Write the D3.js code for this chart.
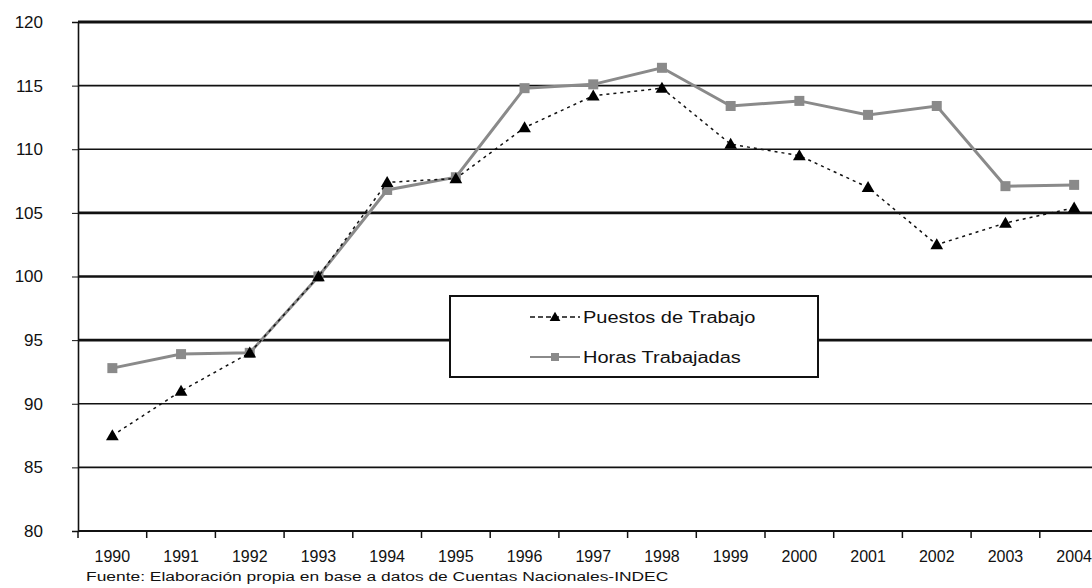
<!DOCTYPE html>
<html lang="es">
<head>
<meta charset="UTF-8">
<script src="https://d3js.org/d3.v7.min.js"></script>
<style>
  body { margin: 0; background: #fff; }
  svg { font-family: "Liberation Sans", Arial, sans-serif; }
  .tick text { font-size: 17px; fill: #111; }
</style>
</head>
<body>
<script>
// data
var years = ["1990","1991","1992","1993","1994","1995","1996","1997","1998","1999","2000","2001","2002","2003","2004"];
var puestos = [87.5, 91.0, 94.0, 100.0, 107.4, 107.7, 111.7, 114.2, 114.8, 110.4, 109.5, 107.0, 102.5, 104.2, 105.4];
var horas = [92.8, 93.9, 94.0, 100.0, 106.8, 107.8, 114.8, 115.1, 116.4, 113.4, 113.8, 112.7, 113.4, 107.1, 107.2];
var yTicks = [80, 85, 90, 95, 100, 105, 110, 115, 120];
var seriesNames = ["Puestos de Trabajo", "Horas Trabajadas"];
var fuente = "Fuente: Elaboración propia en base a datos de Cuentas Nacionales-INDEC";

var W = 1092, H = 588;
var plotLeft = 78, plotTop = 22, plotBottom = 531;
var step = 68.7;

var svg = d3.select("body").append("svg")
  .attr("width", W).attr("height", H);

// stretch text sideways, the scanned original is wider than tall
function stretch(sel, k) {
  sel.each(function() {
    var len = this.getComputedTextLength();
    d3.select(this).attr("textLength", len * k).attr("lengthAdjust", "spacingAndGlyphs");
  });
}

var x = d3.scaleBand()
  .domain(years)
  .range([plotLeft, plotLeft + step * years.length]);

var y = d3.scaleLinear()
  .domain([80, 120])
  .range([plotBottom, plotTop]);

// gridlines, some heavier like in the original
var heavy = { 120: 3, 105: 2.6, 100: 2.6, 95: 2.6 };
svg.append("g").selectAll("line")
  .data(yTicks.filter(function(d) { return d > 80; }))
  .enter().append("line")
  .attr("x1", plotLeft).attr("x2", W)
  .attr("y1", function(d) { return y(d); })
  .attr("y2", function(d) { return y(d); })
  .attr("stroke", "#111")
  .attr("stroke-width", function(d) { return heavy[d] || 1.6; });

// y axis
var yAxis = svg.append("g")
  .attr("transform", "translate(" + plotLeft + ",0)")
  .call(d3.axisLeft(y).tickValues(yTicks).tickSize(6).tickPadding(28));
yAxis.select(".domain").attr("stroke", "#111").attr("stroke-width", 1.6);
yAxis.selectAll(".tick line").attr("stroke", "#111");
yAxis.selectAll(".tick text").attr("text-anchor", "end").attr("x", -35);

// x axis with ticks between categories
var xAxis = svg.append("g")
  .attr("transform", "translate(0," + plotBottom + ")");
xAxis.append("line")
  .attr("x1", plotLeft).attr("x2", W)
  .attr("stroke", "#111").attr("stroke-width", 2.2);
xAxis.selectAll(".xt")
  .data(years)
  .enter().append("line")
  .attr("class", "xt")
  .attr("x1", function(d) { return x(d); })
  .attr("x2", function(d) { return x(d); })
  .attr("y1", 0).attr("y2", 7)
  .attr("stroke", "#111").attr("stroke-width", 1.5);
xAxis.selectAll("text")
  .data(years)
  .enter().append("text")
  .attr("x", function(d) { return x(d) + x.bandwidth() / 2; })
  .attr("y", 31)
  .attr("text-anchor", "middle")
  .attr("font-size", 16)
  .attr("fill", "#111")
  .text(function(d) { return d; });

var cx = function(d, i) { return x(years[i]) + x.bandwidth() / 2; };

// Horas Trabajadas
var lineH = d3.line().x(cx).y(function(d) { return y(d); });
svg.append("path")
  .datum(horas)
  .attr("d", lineH)
  .attr("fill", "none")
  .attr("stroke", "#8a8a8a")
  .attr("stroke-width", 3);
svg.append("g").selectAll("rect")
  .data(horas)
  .enter().append("rect")
  .attr("x", function(d, i) { return cx(d, i) - 5; })
  .attr("y", function(d) { return y(d) - 5; })
  .attr("width", 10).attr("height", 10)
  .attr("fill", "#8a8a8a");

// Puestos de Trabajo
svg.append("path")
  .datum(puestos)
  .attr("d", lineH)
  .attr("fill", "none")
  .attr("stroke", "#111")
  .attr("stroke-width", 1.5)
  .attr("stroke-dasharray", "3,4");
var tri = d3.symbol().type(d3.symbolTriangle).size(70);
svg.append("g").selectAll("path")
  .data(puestos)
  .enter().append("path")
  .attr("d", tri)
  .attr("transform", function(d, i) { return "translate(" + cx(d, i) + "," + (y(d) + 1) + ")"; })
  .attr("fill", "#000");

// legend
var lg = svg.append("g").attr("transform", "translate(450,296)");
lg.append("rect")
  .attr("width", 368).attr("height", 81)
  .attr("fill", "#fff")
  .attr("stroke", "#111").attr("stroke-width", 2);
lg.append("line")
  .attr("x1", 80).attr("x2", 130).attr("y1", 21).attr("y2", 21)
  .attr("stroke", "#111").attr("stroke-width", 1.5).attr("stroke-dasharray", "5,3");
lg.append("path")
  .attr("d", d3.symbol().type(d3.symbolTriangle).size(50))
  .attr("transform", "translate(105,22)")
  .attr("fill", "#000");
lg.append("line")
  .attr("x1", 80).attr("x2", 130).attr("y1", 61).attr("y2", 61)
  .attr("stroke", "#8a8a8a").attr("stroke-width", 2);
lg.append("rect")
  .attr("x", 101).attr("y", 57).attr("width", 8).attr("height", 8)
  .attr("fill", "#8a8a8a");
lg.selectAll("text")
  .data(seriesNames)
  .enter().append("text")
  .attr("x", 133)
  .attr("y", function(d, i) { return 27 + i * 40; })
  .attr("font-size", 16)
  .attr("fill", "#111")
  .text(function(d) { return d; })
  .call(stretch, 1.25);

// source note
svg.append("text")
  .attr("x", 86).attr("y", 581)
  .attr("font-size", 12)
  .attr("fill", "#111")
  .text(fuente)
  .call(stretch, 1.45);
</script>
</body>
</html>
